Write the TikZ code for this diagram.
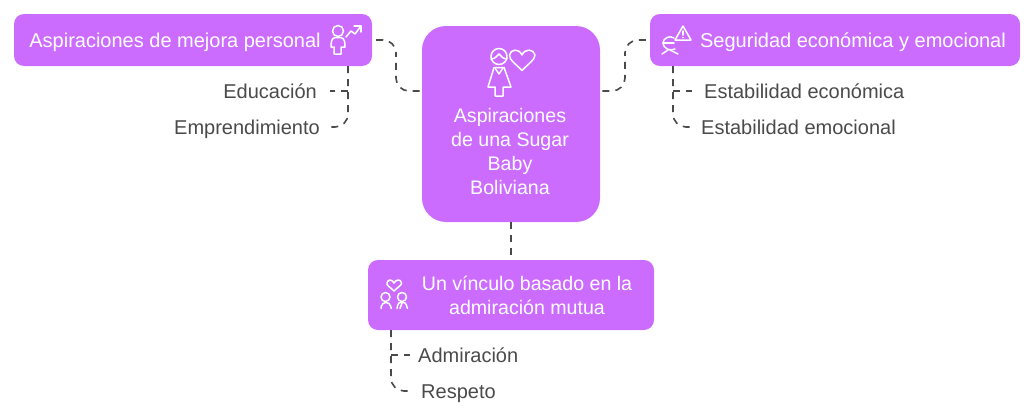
\documentclass[tikz,border=0pt]{standalone}
\usepackage{fontspec}
\setmainfont{Liberation Sans}
\definecolor{lila}{HTML}{CC6CFF}
\definecolor{gris}{HTML}{4A4A4A}
\tikzset{
  caja/.style={fill=lila,rounded corners=10pt,inner sep=0pt},
  titulo/.style={white,font=\fontsize{19.6}{24}\selectfont,align=center,inner sep=0pt},
  titulouno/.style={titulo,font=\fontsize{20}{24}\selectfont,text height=14pt,text depth=0pt},
  hoja/.style={gris,font=\fontsize{20}{24}\selectfont,inner sep=0pt,text height=14pt,text depth=0pt},
  enlace/.style={gris,line width=1.6pt,dash pattern=on 7pt off 6pt,rounded corners=13pt},
  icono/.style={white,line width=1.5pt,line join=round,line cap=round},
}
\begin{document}
\begin{tikzpicture}[x=1pt,y=-1pt]
\useasboundingbox (0,0) rectangle (1034,415);
% puntos de paso
\coordinate (codoa) at (396,65);
\coordinate (codob) at (625,65);
\coordinate (troncoa) at (348,66);
\coordinate (troncob) at (673,66);
\coordinate (troncoc) at (391,330);
% cajas
\node [caja,minimum width=358pt,minimum height=52pt] (mejora) at (193,40) {};
\node [caja,rounded corners=24pt,minimum width=178pt,minimum height=196pt] (centro) at (511,124) {};
\node [caja,minimum width=370pt,minimum height=52pt] (seguridad) at (835,40) {};
\node [caja,minimum width=286pt,minimum height=70pt] (vinculo) at (511,295) {};
% textos
\node [titulouno] (mejoratxt) at (175,40) {Aspiraciones de mejora personal};
\node [titulo] (centrotxt) at (510,151) {Aspiraciones\\de una Sugar\\Baby\\Boliviana};
\node [titulouno] (seguridadtxt) at (853,40) {Seguridad económica y emocional};
\node [titulo] (vinculotxt) at (527,295) {Un vínculo basado en la\\admiración mutua};
\node [hoja,left] (educacion) at (317,91) {Educación};
\node [hoja,left] (empren) at (320,127) {Emprendimiento};
\node [hoja,right] (estabeco) at (704,91) {Estabilidad económica};
\node [hoja,right] (estabemo) at (701,127) {Estabilidad emocional};
\node [hoja,right] (admira) at (418,355) {Admiración};
\node [hoja,right] (respeto) at (421,391) {Respeto};
% enlaces
\draw [enlace] (mejora.east) ++(4,0) -| (codoa) |- (centro.west |- educacion);
\draw [enlace] (seguridad.west) ++(-4,0) -| (codob) |- (centro.east |- educacion);
\draw [enlace] (centro.south) -- (vinculo.north);
\draw [enlace] (troncoa) |- ([xshift=10pt]empren.east);
\draw [enlace] (troncoa |- educacion) -- ([xshift=13pt]educacion.east);
\draw [enlace] (troncob) |- ([xshift=-9pt]estabemo.west);
\draw [enlace] (troncob |- estabeco) -- ([xshift=-12pt]estabeco.west);
\draw [enlace] (troncoc) |- ([xshift=-10pt]respeto.west);
\draw [enlace] (troncoc |- admira) -- ([xshift=-8pt]admira.west);
% icono mejora
\draw [icono] (338,31) circle (5.5);
\draw [icono] (335,37.5) -- (341,37.5) .. controls (345,38) and (345,44) .. (345,47) -- (341,47) -- (341,54) -- (334,54) -- (334,47) -- (331,47) .. controls (331,44) and (331,38) .. (335,37.5);
\draw [icono] (346,37) -- (351,31) -- (355,34) -- (361,26);
\draw [icono] (354,26) -- (361,26) -- (361,32);
% icono centro
\draw [icono] (499,56.5) circle (8);
\draw [icono] (491,59) .. controls (495,59) and (497,56) .. (499,54) .. controls (501,56) and (503,59) .. (507,59);
\draw [icono] (494,67.5) -- (504,67.5) -- (511,87) -- (503,87) -- (503,96) -- (495,96) -- (495,87) -- (488,87) -- cycle;
\draw [icono] (495,68) -- (499,74) -- (503,68);
\draw [icono] (522,70.5) .. controls (516,64) and (509,60) .. (509.5,55) .. controls (510.5,49) and (519,48) .. (522,55) .. controls (525,48) and (534,49) .. (535,55) .. controls (535,60) and (528,64) .. (522,70.5) -- cycle;
% icono seguridad
\draw [icono] (683,26) -- (675,40) -- (691,40) -- cycle;
\draw [icono] (683,31) -- (683,35);
\draw [icono] (683,37.5) -- (683,37.6);
\draw [icono] (674,38) .. controls (670,35) and (663,38) .. (663,43) .. controls (663,48) and (670,52) .. (675,49);
\draw [icono] (663,43) -- (674,43);
\draw [icono] (662,54) -- (668,50);
\draw [icono] (678,54) -- (670,50);
% icono vinculo
\draw [icono] (394,291) .. controls (390,287) and (386,285) .. (387,283) .. controls (388,279) and (392,279) .. (394,283) .. controls (396,279) and (401,279) .. (401.5,283) .. controls (402,285) and (398,287) .. (394,291) -- cycle;
\draw [icono] (385.5,297) circle (4.5);
\draw [icono] (402,297) circle (4.5);
\draw [icono] (381,308.5) -- (381,307) .. controls (382,301) and (390,301) .. (391,307) -- (391,308.5);
\draw [icono] (397,308.5) .. controls (398,303) and (399,302) .. (402,302) .. controls (405,302) and (406,303) .. (407.5,308.5);
\draw [icono] (402,303) -- (400,308.5);
\end{tikzpicture}
\end{document}
